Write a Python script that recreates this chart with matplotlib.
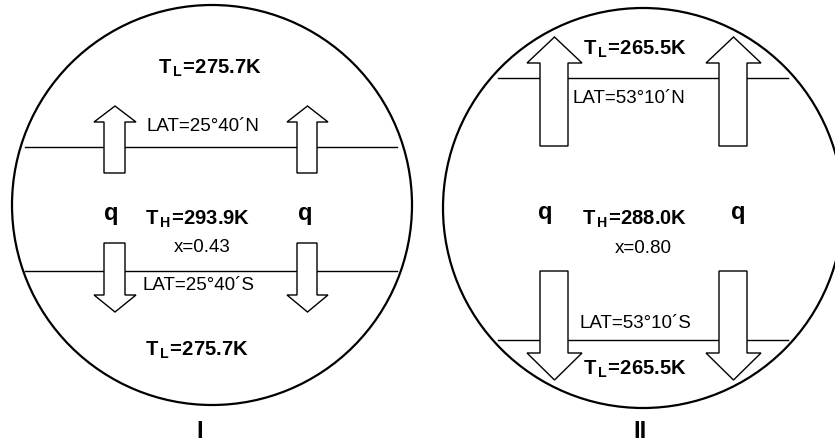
import matplotlib
matplotlib.use("Agg")
import matplotlib.pyplot as plt
from matplotlib.patches import Circle, Polygon

plt.rcParams['font.family'] = ['Liberation Sans', 'DejaVu Sans']
plt.rcParams['mathtext.fontset'] = 'custom'
plt.rcParams['mathtext.rm'] = 'Liberation Sans'
plt.rcParams['mathtext.bf'] = 'Liberation Sans:bold'

# Panel data
panel_names = ["I", "II"]
t_low = ["275.7", "265.5"]
t_high = ["293.9", "288.0"]
x_values = ["0.43", "0.80"]
latitudes = ["25\u00b040\u00b4", "53\u00b010\u00b4"]

fig = plt.figure(figsize=(8.35, 4.43), dpi=100)
ax = fig.add_axes([0, 0, 1, 1])
ax.set_xlim(0, 835)
ax.set_ylim(443, 0)
ax.set_aspect('equal')
ax.axis('off')

# layout of each panel (pixel coordinates)
layouts = [
    dict(cx=212, cy=205, r=200, line_x=(25, 397), y_n=147, y_s=271,
         shafts=[(104, 125), (297, 317)], heads=[(94, 136), (287, 328)],
         up=(173, 122, 106), down=(243, 295, 312),
         tl_top=(210, 68), lat_n=(203, 126), q=(111, 305, 213),
         th=(198, 219), xv=(202, 247), lat_s=(199, 285), tl_bot=(197, 350),
         name=(200, 431)),
    dict(cx=643, cy=208, r=200, line_x=(498, 788), y_n=78, y_s=340,
         shafts=[(540, 568), (719, 747)], heads=[(527, 582), (706, 761)],
         up=(146, 63, 37), down=(271, 353, 380),
         tl_top=(635, 49), lat_n=(629, 98), q=(545, 738, 212),
         th=(635, 219), xv=(643, 248), lat_s=(635, 323), tl_bot=(635, 369),
         name=(640, 431)),
]


def arrow(x0, x1, hx0, hx1, base, neck, tip):
    xm = (hx0 + hx1) / 2
    pts = [(x0, base), (x0, neck), (hx0, neck), (xm, tip),
           (hx1, neck), (x1, neck), (x1, base)]
    ax.add_patch(Polygon(pts, closed=True, facecolor='white',
                         edgecolor='black', linewidth=1.0, zorder=3))


bold = dict(fontsize=14.5, fontweight='bold', ha='center', va='center', zorder=5)
reg = dict(fontsize=13.5, ha='center', va='center', zorder=5)

for i, L in enumerate(layouts):
    ax.add_patch(Circle((L['cx'], L['cy']), L['r'], facecolor='none',
                        edgecolor='black', linewidth=1.6, zorder=1))
    for y in (L['y_n'], L['y_s']):
        ax.plot(L['line_x'], [y, y], color='black', linewidth=1.0, zorder=2)
    for (s0, s1), (h0, h1) in zip(L['shafts'], L['heads']):
        arrow(s0, s1, h0, h1, *L['up'])
        arrow(s0, s1, h0, h1, *L['down'])

    tl = r"$\mathbf{T_{\,L}\!=\!" + t_low[i] + r"K}$"
    th = r"$\mathbf{T_{\,H}\!=\!" + t_high[i] + r"K}$"
    ax.text(*L['tl_top'], tl, **bold)
    ax.text(*L['tl_bot'], tl, **bold)
    ax.text(*L['th'], th, **bold)
    ax.text(L['q'][0], L['q'][2], "q", fontsize=17, fontweight='bold',
            ha='center', va='center', zorder=5)
    ax.text(L['q'][1], L['q'][2], "q", fontsize=17, fontweight='bold',
            ha='center', va='center', zorder=5)
    ax.text(*L['lat_n'], "LAT=" + latitudes[i] + "N", **reg)
    ax.text(*L['lat_s'], "LAT=" + latitudes[i] + "S", **reg)
    ax.text(*L['xv'], "x=" + x_values[i], **reg)
    ax.text(*L['name'], panel_names[i], fontsize=17, fontweight='bold',
            ha='center', va='center', zorder=5)

fig.savefig("out.png", dpi=100, facecolor='white')
